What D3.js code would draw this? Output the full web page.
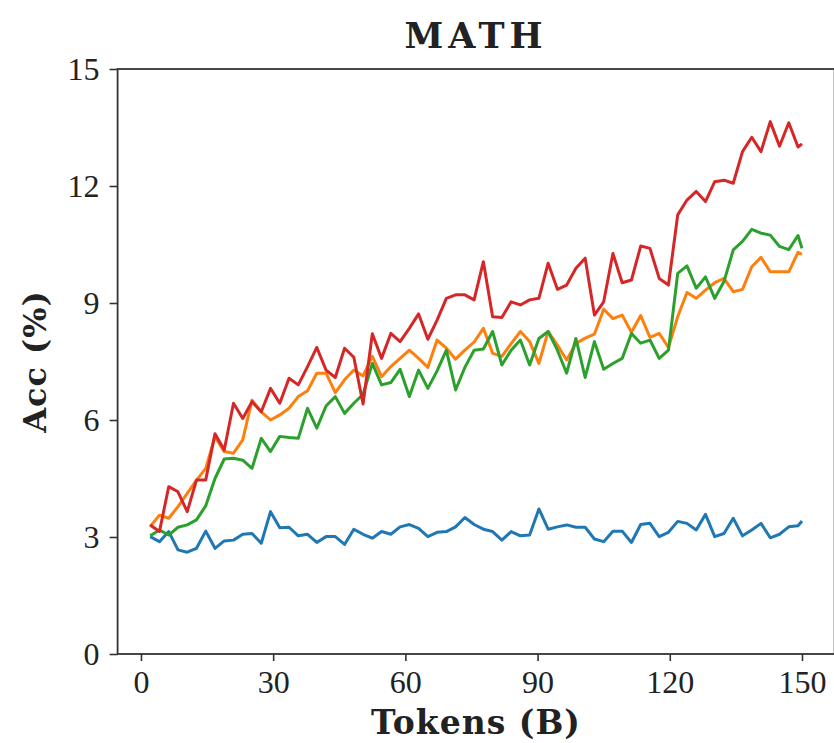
<!DOCTYPE html>
<html>
<head>
<meta charset="utf-8">
<script src="https://cdn.jsdelivr.net/npm/d3@7"></script>
<style>
  body { margin: 0; background: #fff; }
</style>
</head>
<body>
<script>
// checkpoints (B tokens)
const tokens = [2.1, 4.2, 6.3, 8.4, 10.5, 12.6, 14.7, 16.8, 18.9, 21, 23.1, 25.2, 27.3, 29.4, 31.5, 33.6, 35.7, 37.8, 39.9, 42,
  44.1, 46.2, 48.3, 50.4, 52.5, 54.6, 56.7, 58.8, 60.9, 63, 65.1, 67.2, 69.3, 71.4, 73.5, 75.6, 77.7, 79.8, 81.9, 84,
  86.1, 88.2, 90.3, 92.4, 94.5, 96.6, 98.7, 100.8, 102.9, 105, 107.1, 109.2, 111.3, 113.4, 115.5, 117.6, 119.7, 121.8, 123.9, 126,
  128.1, 130.2, 132.3, 134.4, 136.5, 138.6, 140.7, 142.8, 144.9, 147, 149.1, 150]

const accBlue = [3.01, 2.88, 3.14, 2.67, 2.61, 2.71, 3.15, 2.71, 2.9, 2.92,
  3.07, 3.09, 2.84, 3.65, 3.24, 3.25, 3.03, 3.07, 2.86, 3.01,
  3.01, 2.81, 3.2, 3.07, 2.97, 3.14, 3.07, 3.26, 3.32, 3.22,
  3.01, 3.12, 3.14, 3.26, 3.5, 3.32, 3.2, 3.14, 2.92, 3.14,
  3.03, 3.05, 3.72, 3.2, 3.26, 3.31, 3.25, 3.25, 2.95, 2.88,
  3.15, 3.15, 2.86, 3.32, 3.35, 3.01, 3.12, 3.4, 3.35, 3.18,
  3.58, 3.01, 3.09, 3.48, 3.03, 3.18, 3.35, 2.98, 3.07, 3.26, 3.29, 3.41]

const accOrange = [3.27, 3.56, 3.48, 3.78, 4.12, 4.46, 4.76, 5.57, 5.19, 5.15,
  5.49, 6.51, 6.21, 6.0, 6.13, 6.3, 6.6, 6.75, 7.2, 7.2,
  6.7, 7.03, 7.28, 7.13, 7.63, 7.11, 7.37, 7.58, 7.79, 7.58,
  7.35, 8.05, 7.84, 7.56, 7.79, 8.0, 8.35, 7.71, 7.63, 7.96,
  8.27, 8.01, 7.45, 8.27, 7.92, 7.54, 7.96, 8.1, 8.2, 8.84,
  8.6, 8.69, 8.25, 8.68, 8.12, 8.22, 7.86, 8.65, 9.27, 9.12,
  9.33, 9.52, 9.63, 9.29, 9.35, 9.93, 10.17, 9.8, 9.8, 9.8, 10.3, 10.25]

const accGreen = [3.03, 3.18, 3.05, 3.25, 3.31, 3.44, 3.8, 4.5, 5.0, 5.02,
  4.97, 4.76, 5.53, 5.19, 5.58, 5.55, 5.53, 6.3, 5.79, 6.36,
  6.6, 6.17, 6.43, 6.66, 7.45, 6.9, 6.96, 7.3, 6.6, 7.28,
  6.81, 7.26, 7.79, 6.77, 7.35, 7.79, 7.82, 8.27, 7.41, 7.79,
  8.05, 7.41, 8.09, 8.27, 7.79, 7.2, 8.09, 7.09, 8.01, 7.3,
  7.45, 7.58, 8.22, 7.97, 8.05, 7.58, 7.79, 9.76, 9.95, 9.38,
  9.67, 9.12, 9.55, 10.36, 10.58, 10.89, 10.79, 10.74, 10.45, 10.37, 10.73, 10.4]

const accRed = [3.31, 3.14, 4.29, 4.16, 3.65, 4.46, 4.46, 5.65, 5.23, 6.43,
  6.04, 6.47, 6.21, 6.81, 6.43, 7.07, 6.9, 7.37, 7.86, 7.28,
  7.09, 7.84, 7.61, 6.41, 8.21, 7.58, 8.22, 8.01, 8.35, 8.72,
  8.07, 8.56, 9.12, 9.21, 9.21, 9.08, 10.06, 8.65, 8.63, 9.03,
  8.95, 9.08, 9.12, 10.02, 9.35, 9.46, 9.89, 10.15, 8.69, 9.03,
  10.27, 9.52, 9.59, 10.46, 10.4, 9.63, 9.46, 11.26, 11.64, 11.86,
  11.6, 12.11, 12.15, 12.07, 12.88, 13.25, 12.88, 13.65, 13.02, 13.62, 13.0, 13.08]

const xTicks = [0, 30, 60, 90, 120, 150]
const yTicks = [0, 3, 6, 9, 12, 15]

/* ----------  SVG  ---------- */
const W = 834
const H = 743
const svg = d3.select('body').append('svg')
  .attr('width', W)
  .attr('height', H)
  .style('background', '#fff')

const plotLeft = 117.6
const plotRight = 834.6 // right spine sits just past the picture edge
const plotTop = 69
const plotBottom = 654

const x = d3.scaleLinear()
  .domain([-5.3, 157.4])
  .range([plotLeft, plotRight])

const y = d3.scaleLinear()
  .domain([0, 15])
  .range([plotBottom, plotTop])

const tickFont = '"Liberation Serif", "DejaVu Serif", serif'
const boldFont = '"DejaVu Serif", "Liberation Serif", serif'
const axisColor = '#333'

/* ----------  LINES  ---------- */
const series = [
  { values: accBlue, color: '#1f77b4' },
  { values: accOrange, color: '#ff7f0e' },
  { values: accGreen, color: '#2ca02c' },
  { values: accRed, color: '#d62728' }
]

const line = d3.line()
  .x((d, i) => x(tokens[i]))
  .y(d => y(d))

series.forEach(s => {
  svg.append('path')
    .datum(s.values)
    .attr('fill', 'none')
    .attr('stroke', s.color)
    .attr('stroke-width', 3)
    .attr('stroke-linejoin', 'round')
    .attr('d', line)
})

/* ----------  AXES  ---------- */
const xAxis = svg.append('g')
  .attr('transform', `translate(0, ${plotBottom})`)
  .call(d3.axisBottom(x).tickValues(xTicks).tickSize(7).tickPadding(9))
xAxis.select('.domain').remove()
xAxis.selectAll('line').attr('stroke', axisColor).attr('stroke-width', 1.6)
xAxis.selectAll('text')
  .style('font-family', tickFont)
  .style('font-size', '32px')
  .attr('fill', '#222')

const yAxis = svg.append('g')
  .attr('transform', `translate(${plotLeft}, 0)`)
  .call(d3.axisLeft(y).tickValues(yTicks).tickSize(8).tickPadding(10))
yAxis.select('.domain').remove()
yAxis.selectAll('line').attr('stroke', axisColor).attr('stroke-width', 1.6)
yAxis.selectAll('text')
  .style('font-family', tickFont)
  .style('font-size', '32px')
  .attr('fill', '#222')

// frame
svg.append('rect')
  .attr('x', plotLeft)
  .attr('y', plotTop)
  .attr('width', plotRight - plotLeft)
  .attr('height', plotBottom - plotTop)
  .attr('fill', 'none')
  .attr('stroke', axisColor)
  .attr('stroke-width', 1.8)

/* ----------  TITLES  ---------- */
svg.append('text')
  .attr('x', 476)
  .attr('y', 48)
  .attr('text-anchor', 'middle')
  .style('font-family', boldFont)
  .style('font-weight', 'bold')
  .style('font-size', '35px')
  .style('letter-spacing', '5px')
  .attr('fill', '#222')
  .text('MATH')

svg.append('text')
  .attr('x', 476)
  .attr('y', 734)
  .attr('text-anchor', 'middle')
  .style('font-family', boldFont)
  .style('font-weight', 'bold')
  .style('font-size', '33px')
  .style('letter-spacing', '1px')
  .attr('fill', '#222')
  .text('Tokens (B)')

svg.append('text')
  .attr('transform', `translate(46, ${(plotTop + plotBottom) / 2}) rotate(-90)`)
  .attr('text-anchor', 'middle')
  .style('font-family', boldFont)
  .style('font-weight', 'bold')
  .style('font-size', '32px')
  .style('letter-spacing', '1px')
  .attr('fill', '#222')
  .text('Acc (%)')
</script>
</body>
</html>
